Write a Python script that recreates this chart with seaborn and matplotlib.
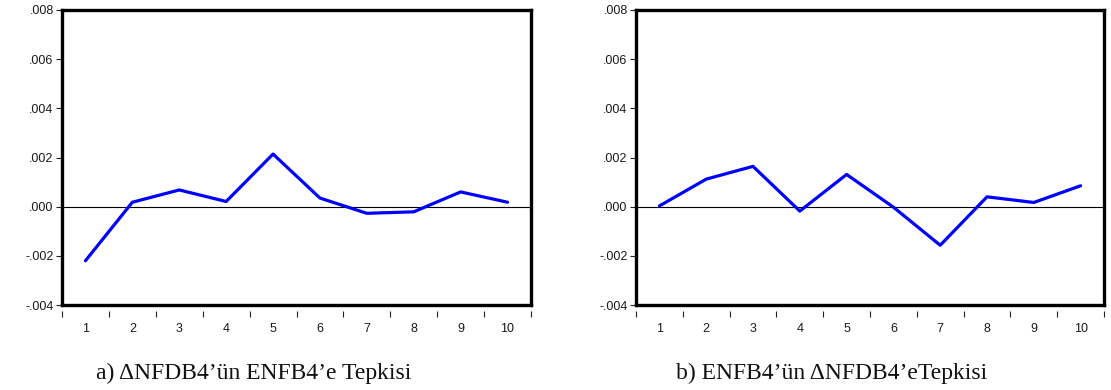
import matplotlib
matplotlib.use("Agg")
import matplotlib.pyplot as plt
import numpy as np
import pandas as pd
import seaborn as sns

# Impulse-response periods and responses
periods = [1, 2, 3, 4, 5, 6, 7, 8, 9, 10]
resp_a = [-0.00220, 0.00018, 0.00068, 0.00021, 0.00214, 0.00035, -0.00027, -0.00021, 0.00060, 0.00018]
resp_b = [0.00003, 0.00112, 0.00164, -0.00018, 0.00131, -0.00002, -0.00157, 0.00040, 0.00017, 0.00085]

y_ticks = [-0.004, -0.002, 0.000, 0.002, 0.004, 0.006, 0.008]
y_labels = ["-.004", "-.002", ".000", ".002", ".004", ".006", ".008"]
titles = ["a) \u0394NFDB4\u2019\u00fcn ENFB4\u2019e Tepkisi",
          "b) ENFB4\u2019\u00fcn \u0394NFDB4\u2019eTepkisi"]

sns.set_theme(style="white")
plt.rcParams["font.family"] = ["Liberation Sans", "DejaVu Sans"]

fig = plt.figure(figsize=(11.11, 3.90), dpi=100)
axes_rects = [
    [62 / 1111, 85 / 390, 469 / 1111, 295 / 390],
    [636 / 1111, 85 / 390, 468 / 1111, 295 / 390],
]
title_x = [254 / 1111, 832 / 1111]

for rect, resp, title, tx in zip(axes_rects, [resp_a, resp_b], titles, title_x):
    ax = fig.add_axes(rect)
    df = pd.DataFrame({"period": periods, "response": resp})
    sns.lineplot(data=df, x="period", y="response", ax=ax,
                 color="#0000ff", linewidth=2.3, legend=False)
    ax.axhline(0, color="black", linewidth=0.8, zorder=1)

    ax.set_xlim(0.5, 10.5)
    ax.set_ylim(-0.004, 0.008)
    ax.set_yticks(y_ticks)
    ax.set_yticklabels(y_labels, fontsize=9, color="#1a1a1a")
    ax.tick_params(axis="y", direction="out", length=4, width=0.8,
                   color="#222222", pad=2, left=True)
    ax.set_xticks([])
    ax.set_xlabel("")
    ax.set_ylabel("")
    for sp in ax.spines.values():
        sp.set_visible(True)
        sp.set_color("black")
        sp.set_linewidth(2.4)

    # period labels and boundary ticks sit slightly below the frame
    sec = ax.secondary_xaxis(-0.02)
    sec.spines["bottom"].set_visible(False)
    sec.set_xticks(periods)
    sec.set_xticklabels([str(p) for p in periods], fontsize=9, color="#1a1a1a")
    sec.set_xticks(np.arange(0.5, 11, 1.0), minor=True)
    sec.tick_params(axis="x", which="major", length=0, pad=8.5)
    sec.tick_params(axis="x", which="minor", length=4.5, width=0.8,
                    color="#222222", direction="out")

    fig.text(tx, 17 / 390, title, ha="center", va="center",
             fontsize=17, family=["Liberation Serif", "DejaVu Serif"], color="#111111")

fig.savefig("out.png", dpi=100, facecolor="white")
